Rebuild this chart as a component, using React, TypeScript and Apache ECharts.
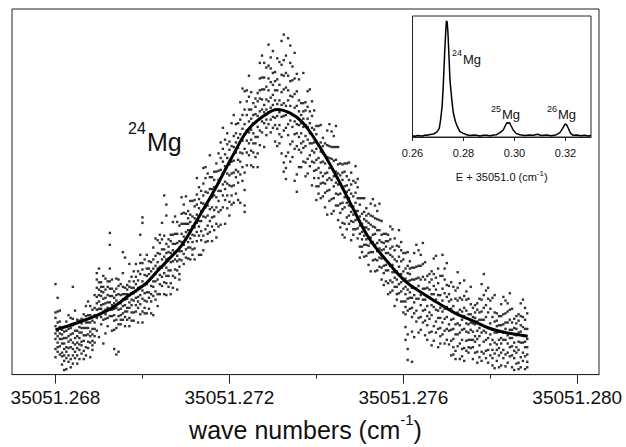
import React, { useEffect, useRef } from "react";
import * as echarts from "echarts";

// x values are wavenumbers minus this base (cm^-1)
const WAVENUMBER_BASE = 35051.0;

const mainTickValues = [0.268, 0.272, 0.276, 0.28];
const mainMinorTickValues = [0.27, 0.274, 0.278];
const insetTickValues = [0.26, 0.28, 0.3, 0.32];

// fitted profile of the 24Mg line (main panel)
const fitX = [0.268, 0.26852, 0.26891, 0.2693, 0.26967, 0.27006, 0.27034, 0.27064, 0.27091, 0.27128, 0.27167, 0.27206, 0.27243, 0.27282, 0.2731, 0.2734, 0.27368, 0.27404, 0.27444, 0.27483, 0.2752, 0.27559, 0.27605, 0.27644, 0.27681, 0.2772, 0.27759, 0.27796, 0.27835, 0.27886];
const fitY = [49, 57, 64, 73, 86, 99, 113, 128, 142, 171, 203, 238, 268, 284, 290, 286, 276, 252, 219, 183, 150, 126, 102, 89, 78, 67, 59, 51, 46, 42];

// measured points, grouped by scan position: [x, signal values]
const scanDots: [number, number[]][] = [
  [0.268, [99, 68, 62, 53, 45, 39, 28, 19]], [0.26805, [84, 69, 57, 48, 42, 35, 30, 25]], [0.2681, [70, 58, 52, 45, 39, 31, 22]],
  [0.26815, [49, 44, 39, 34, 24, 20, 11]], [0.2682, [47, 40, 34, 28, 21, 15, 5]], [0.26825, [58, 48, 40, 30, 25, 18, 6]],
  [0.2683, [65, 50, 42, 36, 29, 21, 14]], [0.26835, [62, 51, 44, 38, 30, 17, 8]], [0.2684, [96, 61, 54, 45, 35, 28, 21, 12]],
  [0.26845, [70, 56, 48, 40, 33, 25, 18]], [0.2685, [60, 48, 42, 35, 29, 21, 12]], [0.26855, [59, 52, 46, 40, 33, 27, 17]],
  [0.2686, [61, 56, 51, 46, 36, 32, 23]], [0.26865, [66, 60, 51, 43, 37, 26, 17]], [0.2687, [75, 64, 57, 51, 43, 30, 21]],
  [0.26875, [80, 65, 57, 51, 44, 36, 29]], [0.2688, [75, 65, 57, 47, 42, 35, 19]], [0.26885, [71, 59, 50, 44, 37, 32, 27]],
  [0.2689, [87, 73, 65, 57, 50, 42, 35]], [0.26895, [111, 104, 95, 85, 78, 71, 62, 48]], [0.269, [116, 101, 93, 87, 80, 72, 65, 41]],
  [0.26905, [101, 96, 91, 86, 76, 72, 63, 55]], [0.2691, [108, 96, 90, 83, 77, 69, 60, 34]], [0.26915, [105, 93, 84, 78, 71, 66, 61, 45]],
  [0.2692, [102, 96, 87, 79, 73, 62, 53]], [0.26925, [155, 142, 116, 102, 94, 86, 79, 71, 64]], [0.2693, [104, 94, 86, 76, 71, 64, 48]],
  [0.26935, [91, 84, 78, 72, 65, 59, 49, 28]], [0.2694, [105, 94, 87, 81, 73, 60, 51, 22]], [0.26945, [104, 97, 88, 78, 71, 64, 55, 25]],
  [0.2695, [99, 87, 78, 72, 65, 60, 55]], [0.26955, [134, 111, 96, 88, 82, 75, 67, 60]], [0.2696, [128, 95, 88, 82, 76, 69, 63, 53]],
  [0.26965, [98, 93, 88, 83, 73, 69, 60]], [0.2697, [121, 102, 96, 87, 79, 73, 62, 53]], [0.26975, [107, 95, 89, 82, 76, 68, 59]],
  [0.2698, [113, 102, 95, 89, 81, 68, 59]], [0.26985, [121, 107, 99, 91, 84, 76, 69]], [0.2699, [113, 103, 95, 85, 80, 73, 57]],
  [0.26995, [153, 131, 122, 110, 96, 87, 77, 66]], [0.27, [172, 166, 122, 115, 102, 92, 83, 69, 57]], [0.27005, [126, 109, 98, 89, 81, 73, 67]],
  [0.2701, [131, 116, 108, 99, 90, 80, 67]], [0.27015, [124, 116, 110, 103, 90, 84, 72]], [0.2702, [123, 113, 106, 97, 88, 80, 67]],
  [0.27025, [139, 126, 116, 102, 96, 86, 65]], [0.2703, [149, 130, 119, 110, 102, 91, 82]], [0.27035, [147, 133, 123, 116, 104, 88, 75]],
  [0.2704, [153, 144, 132, 118, 109, 99, 88]], [0.27045, [166, 148, 137, 126, 117, 107, 97]], [0.2705, [196, 152, 137, 129, 120, 111, 101, 88]],
  [0.27055, [186, 174, 143, 133, 126, 117, 108, 100, 87]], [0.2706, [148, 140, 134, 127, 114, 108, 96]], [0.27065, [153, 146, 133, 123, 114, 100, 88]],
  [0.2707, [167, 153, 143, 136, 124, 108, 95]], [0.27075, [173, 154, 143, 134, 126, 115, 106]], [0.2708, [167, 154, 144, 130, 124, 114, 93]],
  [0.27085, [163, 146, 135, 126, 118, 110, 104]], [0.2709, [194, 176, 165, 154, 145, 135, 125]], [0.27095, [186, 177, 165, 151, 142, 132, 121]],
  [0.271, [195, 176, 165, 156, 148, 137, 128]], [0.27105, [179, 171, 165, 158, 145, 139, 127]], [0.2711, [190, 175, 167, 158, 149, 139, 126]],
  [0.27115, [190, 173, 162, 153, 145, 137, 131]], [0.2712, [191, 184, 171, 161, 152, 138, 126]], [0.27125, [215, 197, 186, 175, 166, 156, 146]],
  [0.2713, [205, 192, 182, 168, 162, 152, 131]], [0.27135, [201, 188, 179, 168, 157, 147, 131]], [0.2714, [226, 209, 196, 187, 173, 152, 136]],
  [0.27145, [227, 215, 200, 183, 172, 159, 145]], [0.2715, [220, 199, 185, 174, 163, 154, 146]], [0.27155, [240, 216, 203, 192, 181, 168, 156]],
  [0.2716, [216, 203, 194, 183, 172, 162, 146]], [0.27165, [222, 213, 205, 196, 180, 173, 158]], [0.2717, [231, 222, 206, 194, 183, 165, 150]],
  [0.27175, [242, 223, 213, 201, 190, 178, 162]], [0.2718, [254, 237, 224, 215, 201, 180, 164]], [0.27185, [270, 247, 233, 220, 208, 196, 183]],
  [0.2719, [257, 241, 228, 211, 203, 191, 165]], [0.27195, [264, 252, 237, 220, 209, 196, 182]], [0.272, [255, 246, 230, 218, 207, 189, 174]],
  [0.27205, [275, 250, 233, 220, 206, 196, 186]], [0.2721, [284, 261, 249, 234, 221, 207, 188]], [0.27215, [274, 264, 254, 243, 224, 216, 198]],
  [0.2722, [275, 259, 248, 235, 222, 210, 191]], [0.27225, [298, 279, 263, 243, 233, 219, 188]], [0.2723, [313, 284, 269, 256, 242, 227, 212]],
  [0.27235, [310, 290, 274, 263, 247, 221, 202, 185, 178]], [0.2724, [311, 299, 284, 267, 256, 243, 229]], [0.27245, [327, 304, 290, 277, 265, 253, 240]],
  [0.2725, [309, 290, 280, 268, 257, 245, 229]], [0.27255, [297, 284, 275, 264, 253, 243, 227]], [0.2726, [302, 293, 285, 276, 260, 253, 238]],
  [0.27265, [308, 299, 283, 271, 260, 242, 227]], [0.2727, [341, 324, 311, 302, 288, 267, 251]], [0.27275, [349, 325, 312, 301, 290, 277, 265]],
  [0.2728, [341, 325, 312, 295, 287, 275, 249]], [0.27285, [336, 315, 301, 290, 279, 270, 262]], [0.2729, [361, 338, 324, 311, 299, 287, 274]],
  [0.27295, [347, 335, 320, 303, 292, 279, 265]], [0.273, [354, 330, 317, 306, 295, 282, 270]], [0.27305, [331, 321, 311, 300, 281, 273, 255]],
  [0.2731, [346, 323, 311, 296, 283, 269, 250]], [0.27315, [342, 317, 300, 287, 273, 263, 253]], [0.2732, [365, 339, 328, 309, 295, 282, 260, 242]],
  [0.27325, [372, 344, 327, 312, 297, 283, 267, 232, 222]], [0.2733, [349, 330, 314, 294, 284, 270, 239, 226, 214]], [0.27335, [368, 327, 311, 300, 287, 274, 262, 243]],
  [0.2734, [360, 341, 321, 305, 294, 278, 252, 233]], [0.27345, [337, 322, 304, 284, 271, 255, 238]], [0.2735, [352, 324, 307, 292, 277, 263, 247, 212]],
  [0.27355, [329, 310, 294, 274, 264, 250, 219, 200]], [0.2736, [323, 300, 288, 273, 260, 246, 227]], [0.27365, [297, 284, 275, 264, 253, 243, 227]],
  [0.2737, [330, 297, 288, 280, 271, 255, 248, 233]], [0.27375, [298, 289, 273, 261, 250, 232, 217]], [0.2738, [310, 293, 280, 271, 257, 236, 220]],
  [0.27385, [312, 288, 275, 264, 253, 240, 228]], [0.2739, [299, 283, 270, 253, 245, 233, 207]], [0.27395, [289, 268, 254, 243, 232, 223, 215]],
  [0.274, [272, 263, 247, 235, 224, 206, 191]], [0.27405, [272, 251, 237, 226, 215, 206, 198]], [0.2741, [273, 254, 244, 232, 221, 209, 193]],
  [0.27415, [259, 250, 242, 233, 217, 210, 195]], [0.2742, [253, 240, 231, 220, 209, 199, 183]], [0.27425, [267, 251, 238, 221, 213, 201, 175]],
  [0.2743, [274, 250, 237, 226, 215, 202, 190]], [0.27435, [266, 249, 236, 227, 213, 192, 176]], [0.2744, [261, 249, 234, 217, 206, 193, 179]],
  [0.27445, [272, 249, 235, 222, 210, 198, 185]], [0.2745, [249, 230, 220, 208, 197, 185, 169]], [0.27455, [231, 218, 209, 198, 187, 177, 161]],
  [0.2746, [230, 221, 213, 204, 188, 181, 166, 153]], [0.27465, [231, 222, 206, 194, 183, 165, 150]], [0.2747, [231, 217, 207, 200, 188, 172, 159]],
  [0.27475, [232, 213, 202, 193, 185, 174, 165]], [0.2748, [221, 208, 198, 184, 178, 168, 147]], [0.27485, [212, 195, 184, 175, 167, 159, 153]],
  [0.2749, [228, 210, 199, 188, 179, 169, 159]], [0.27495, [214, 205, 193, 179, 170, 160, 149]], [0.275, [193, 186, 173, 163, 154, 140, 128]],
  [0.27505, [193, 176, 165, 156, 148, 140, 134]], [0.2751, [193, 178, 170, 161, 152, 142, 129]], [0.27515, [182, 174, 168, 161, 148, 142, 130]],
  [0.2752, [176, 166, 159, 150, 141, 133, 120]], [0.27525, [187, 174, 164, 150, 144, 134, 113]], [0.2753, [192, 173, 162, 153, 145, 134, 125]],
  [0.27535, [185, 171, 161, 154, 142, 126, 113]], [0.2754, [179, 170, 158, 144, 135, 125, 114]], [0.27545, [187, 169, 158, 147, 138, 128, 118]],
  [0.2755, [168, 153, 145, 136, 127, 117, 104]], [0.27555, [154, 144, 137, 128, 119, 111, 98]], [0.2756, [154, 146, 140, 133, 120, 114, 102]],
  [0.27565, [153, 146, 133, 123, 114, 100, 88]], [0.2757, [162, 148, 138, 131, 119, 103, 90]], [0.27575, [159, 140, 129, 120, 112, 101, 92]],
  [0.2758, [149, 136, 126, 112, 106, 96, 75]], [0.27585, [141, 124, 113, 104, 96, 88, 82]], [0.2759, [158, 140, 129, 118, 109, 99, 89]],
  [0.27595, [145, 136, 124, 110, 101, 91, 80]], [0.276, [133, 126, 113, 103, 94, 80, 68]], [0.27605, [133, 116, 105, 96, 88, 80, 74, 66, 52, 38]],
  [0.2761, [134, 119, 111, 102, 93, 83, 70, 44, 28, 16]], [0.27615, [124, 116, 110, 103, 90, 84, 72]], [0.2762, [117, 104, 95, 84, 73, 63, 47, 14]],
  [0.27625, [133, 117, 104, 87, 79, 67, 41]], [0.2763, [142, 118, 105, 94, 83, 70, 58]], [0.27635, [136, 119, 106, 97, 83, 62, 46]],
  [0.2764, [131, 119, 104, 87, 76, 63, 49]], [0.27645, [144, 121, 107, 94, 82, 70, 57]], [0.2765, [123, 104, 94, 82, 71, 59, 43]],
  [0.27655, [108, 95, 86, 75, 64, 54, 38]], [0.2766, [110, 101, 93, 84, 68, 61, 46]], [0.27665, [113, 104, 88, 76, 65, 47, 32]],
  [0.2767, [127, 110, 97, 88, 74, 53, 37]], [0.27675, [130, 106, 93, 82, 71, 58, 46]], [0.2768, [116, 100, 87, 70, 62, 50, 30]],
  [0.27685, [108, 87, 73, 62, 51, 42, 34]], [0.2769, [131, 108, 94, 81, 69, 57, 44]], [0.27695, [116, 104, 89, 72, 61, 48, 34]],
  [0.277, [122, 98, 85, 74, 63, 50, 38]], [0.27705, [97, 88, 80, 71, 55, 48, 33]], [0.2771, [101, 82, 72, 60, 49, 37, 21]],
  [0.27715, [96, 75, 61, 50, 39, 30, 22]], [0.2772, [92, 83, 67, 55, 44, 26, 17]], [0.27725, [112, 95, 81, 68, 56, 44, 31]],
  [0.2773, [100, 84, 71, 54, 46, 34, 17]], [0.27735, [82, 69, 60, 49, 38, 28, 20]], [0.2774, [103, 86, 73, 64, 50, 29, 15]],
  [0.27745, [91, 82, 70, 56, 47, 37, 26]], [0.2775, [83, 66, 55, 46, 38, 30, 24]], [0.27755, [96, 77, 66, 57, 49, 38, 29]],
  [0.2776, [73, 63, 56, 47, 38, 30, 17]], [0.27765, [76, 68, 62, 55, 42, 36, 24]], [0.2777, [78, 71, 58, 48, 39, 25, 13]],
  [0.27775, [83, 68, 60, 51, 42, 32, 19]], [0.2778, [99, 82, 69, 60, 46, 25, 15]], [0.27785, [110, 87, 73, 60, 48, 36, 23]],
  [0.2779, [92, 76, 63, 46, 38, 26, 18]], [0.27795, [95, 83, 68, 51, 40, 27, 13]], [0.278, [81, 72, 56, 44, 33, 21]],
  [0.27805, [84, 63, 49, 38, 27, 18, 10]], [0.2781, [87, 68, 58, 46, 35, 23, 7]], [0.27815, [67, 59, 53, 46, 33, 27, 15]],
  [0.2782, [64, 54, 47, 38, 29, 21, 8]], [0.27825, [77, 64, 54, 40, 34, 24, 10]], [0.2783, [85, 66, 55, 46, 38, 27, 18]],
  [0.27835, [81, 67, 57, 50, 38, 22, 9]], [0.2784, [78, 69, 57, 43, 34, 24, 13]], [0.27845, [89, 71, 60, 49, 40, 30, 20]],
  [0.2785, [72, 57, 49, 40, 31, 21, 8]], [0.27855, [61, 51, 44, 35, 26, 18, 5]], [0.2786, [64, 56, 50, 43, 30, 24, 12]],
  [0.27865, [66, 59, 46, 36, 27, 13, 6]], [0.2787, [78, 64, 54, 47, 35, 19, 8]], [0.27875, [82, 63, 52, 43, 35, 24, 15]],
  [0.2788, [73, 60, 50, 36, 30, 20, 6]], [0.27885, [67, 50, 39, 30, 22, 14, 8]],
];

// inset: survey spectrum of the three isotopes
const insetX = [0.26, 0.261, 0.262, 0.2629, 0.264, 0.2648, 0.2656, 0.2665, 0.2675, 0.2682, 0.269, 0.2695, 0.27, 0.2705, 0.271, 0.2716, 0.2721, 0.2726, 0.273, 0.2733, 0.2736, 0.2739, 0.2742, 0.2747, 0.2754, 0.276, 0.2768, 0.2776, 0.2786, 0.2799, 0.2812, 0.2825, 0.2838, 0.2852, 0.2865, 0.2878, 0.2891, 0.2905, 0.2918, 0.293, 0.2943, 0.2956, 0.2967, 0.2972, 0.2976, 0.2981, 0.2985, 0.2995, 0.3006, 0.3021, 0.304, 0.3058, 0.3074, 0.309, 0.3105, 0.3126, 0.3145, 0.3165, 0.3178, 0.3189, 0.3198, 0.3204, 0.3211, 0.322, 0.323, 0.3245, 0.326, 0.3275, 0.329, 0.33];
const insetY = [1.0, 0.6, 1.2, 1.1, 0.8, 1.6, 1.4, 1.9, 2.2, 2.5, 3.3, 4.1, 5.5, 7.2, 14, 25, 44, 69, 86, 96, 95, 86, 72, 47, 31, 20, 13, 8.5, 4.4, 3.0, 1.9, 1.2, 1.7, 1.4, 0.9, 1.5, 1.4, 1.0, 1.6, 1.9, 3.6, 5.8, 10.7, 12.0, 11.3, 11.8, 9.9, 5.8, 3.0, 1.9, 1.2, 1.6, 1.4, 2.2, 1.3, 1.7, 1.1, 1.9, 3.6, 7.2, 10.7, 10.2, 7.2, 3.0, 1.4, 1.7, 1.0, 1.5, 0.9, 1.3];

const FONT = "'Liberation Sans', Arial, Helvetica, sans-serif";
const INK = "#111";

export default function App() {
  const ref = useRef<HTMLDivElement>(null);
  useEffect(() => {
    if (!ref.current) return;
    const chart = echarts.init(ref.current, null, { renderer: "svg" });
    const dots = scanDots.flatMap(([x, ys]) => ys.map((y) => [x, y]));
    const fit = fitX.map((x, i) => [x, fitY[i]]);
    const inset = insetX.map((x, i) => [x, insetY[i]]);

    const label = (x: number, y: number, text: string, size: number) => ({
      type: "text",
      x,
      y,
      silent: true,
      style: { text, fontSize: size, fontFamily: FONT, fill: INK, textAlign: "left", textVerticalAlign: "middle" },
      z: 100,
    });

    chart.setOption({
      animation: false,
      backgroundColor: "#fff",
      grid: [
        { left: 12, top: 9, width: 587, height: 374, show: true, borderColor: "#222", borderWidth: 1, backgroundColor: "transparent" },
        { left: 412.5, top: 16, width: 178.5, height: 121, show: true, borderColor: "#222", borderWidth: 1, backgroundColor: "#fff" },
      ],
      xAxis: [
        {
          gridIndex: 0,
          type: "value",
          position: "bottom",
          min: 0.267,
          max: 0.2805,
          axisLine: { show: true, onZero: false, lineStyle: { color: "#222", width: 1 } },
          axisTick: { show: true, customValues: mainTickValues, length: 9, inside: false, lineStyle: { color: "#222", width: 1 } },
          axisLabel: {
            show: true,
            customValues: mainTickValues,
            formatter: (v: number) => (WAVENUMBER_BASE + v).toFixed(3),
            fontSize: 19,
            fontFamily: FONT,
            color: INK,
            margin: 13,
          },
          splitLine: { show: false },
          name: "{n|wave numbers (cm}{s|-1}{n|)}",
          nameLocation: "middle",
          nameGap: 32,
          nameTextStyle: {
            rich: {
              n: { fontSize: 25, fontFamily: FONT, color: INK, lineHeight: 36 },
              s: { fontSize: 15, fontFamily: FONT, color: INK, lineHeight: 15, verticalAlign: "top" },
            },
          },
        },
        {
          gridIndex: 0,
          type: "value",
          position: "bottom",
          min: 0.267,
          max: 0.2805,
          axisLine: { show: false, onZero: false },
          axisTick: { show: true, customValues: mainMinorTickValues, length: 4, inside: false, lineStyle: { color: "#222", width: 1 } },
          axisLabel: { show: false },
          splitLine: { show: false },
        },
        {
          gridIndex: 1,
          type: "value",
          position: "bottom",
          min: 0.26,
          max: 0.33,
          axisLine: { show: true, onZero: false, lineStyle: { color: "#222", width: 1 } },
          axisTick: { show: true, customValues: insetTickValues, length: 4, inside: false, lineStyle: { color: "#222", width: 1 } },
          axisLabel: {
            show: true,
            customValues: insetTickValues,
            formatter: (v: number) => v.toFixed(2),
            fontSize: 11,
            fontFamily: FONT,
            color: INK,
            margin: 10,
          },
          splitLine: { show: false },
          name: "{n|E + 35051.0 (cm}{s|-1}{n|)}",
          nameLocation: "middle",
          nameGap: 32,
          nameTextStyle: {
            rich: {
              n: { fontSize: 11, fontFamily: FONT, color: INK, lineHeight: 16 },
              s: { fontSize: 8, fontFamily: FONT, color: INK, lineHeight: 8, verticalAlign: "top" },
            },
          },
        },
      ],
      yAxis: [
        { gridIndex: 0, type: "value", min: 0, max: 400, axisLine: { show: false }, axisTick: { show: false }, axisLabel: { show: false }, splitLine: { show: false } },
        { gridIndex: 1, type: "value", min: 0, max: 100, axisLine: { show: false }, axisTick: { show: false }, axisLabel: { show: false }, splitLine: { show: false } },
      ],
      series: [
        {
          type: "scatter",
          xAxisIndex: 0,
          yAxisIndex: 0,
          data: dots,
          symbol: "rect",
          symbolSize: 2.4,
          itemStyle: { color: "#000" },
          silent: true,
          z: 2,
        },
        {
          type: "line",
          xAxisIndex: 0,
          yAxisIndex: 0,
          data: fit,
          smooth: 0.4,
          showSymbol: false,
          lineStyle: { color: "#000", width: 3 },
          silent: true,
          z: 3,
        },
        {
          type: "line",
          xAxisIndex: 2,
          yAxisIndex: 1,
          data: inset,
          showSymbol: false,
          lineStyle: { color: "#000", width: 1.5 },
          silent: true,
          z: 5,
        },
      ],
      graphic: [
        label(128, 128, "24", 16),
        label(147, 142, "Mg", 25),
        label(452, 53, "24", 9),
        label(463, 59, "Mg", 13),
        label(491, 109, "25", 9),
        label(502, 114, "Mg", 13),
        label(547, 109, "26", 9),
        label(558, 114, "Mg", 13),
      ],
    });
    return () => chart.dispose();
  }, []);
  return <div ref={ref} style={{ position: "absolute", left: 0, top: 0, width: 626, height: 447, background: "#fff" }} />;
}
